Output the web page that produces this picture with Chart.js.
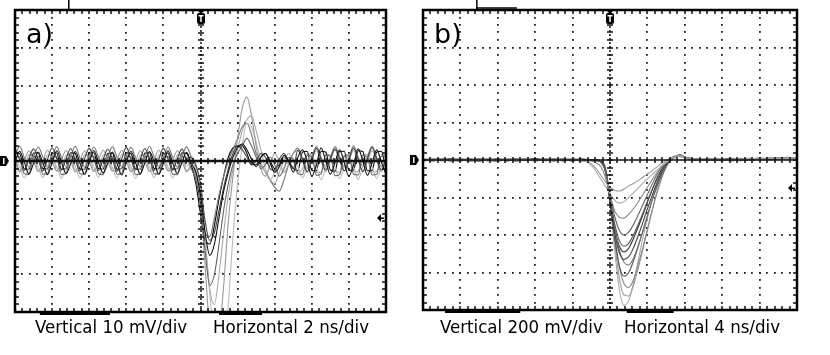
<!DOCTYPE html>
<html>
<head>
<meta charset="utf-8">
<script src="https://cdn.jsdelivr.net/npm/chart.js@4.4.1/dist/chart.umd.min.js"></script>
<style>
  body { margin: 0; background: #fff; width: 830px; height: 355px; position: relative; overflow: hidden; }
  canvas { position: absolute; top: 0; }
  #chartA { left: 0; }
  #chartB { left: 410px; }
  .tag { position: absolute; font-family: 'DejaVu Sans', sans-serif; font-size: 27px; color: #000; line-height: 1; }
  .cap { position: absolute; top: 316px; font-family: 'DejaVu Sans Condensed', 'DejaVu Sans', sans-serif; font-size: 18.5px; color: #000; white-space: nowrap; line-height: 22px; }
</style>
</head>
<body>
<canvas id="chartA" width="400" height="320"></canvas>
<canvas id="chartB" width="400" height="320"></canvas>
<div class="tag" style="left:26px;top:20px">a)</div>
<div class="tag" style="left:434px;top:20px">b)</div>
<div class="cap" style="left:35px">Vertical 10 mV/div</div>
<div class="cap" style="left:213px">Horizontal 2 ns/div</div>
<div class="cap" style="left:440px">Vertical 200 mV/div</div>
<div class="cap" style="left:624px">Horizontal 4 ns/div</div>
<script>
// Panel a) - 10 mV/div, 2 ns/div (time in ns, voltage in mV)
const xA = [-10, -9.75, -9.5, -9.25, -9, -8.75, -8.5, -8.25, -8, -7.75, -7.5, -7.25, -7, -6.75, -6.5, -6.25,
  -6, -5.75, -5.5, -5.25, -5, -4.75, -4.5, -4.25, -4, -3.75, -3.5, -3.25, -3, -2.75, -2.5, -2.25,
  -2, -1.75, -1.5, -1.25, -1, -0.75, -0.5, -0.25, 0, 0.25, 0.5, 0.75, 1, 1.25, 1.5, 1.75,
  2, 2.25, 2.5, 2.75, 3, 3.25, 3.5, 3.75, 4, 4.25, 4.5, 4.75, 5, 5.25, 5.5, 5.75,
  6, 6.25, 6.5, 6.75, 7, 7.25, 7.5, 7.75, 8, 8.25, 8.5, 8.75, 9, 9.25, 9.5, 9.75, 10];

const traceA1 = [-0.5, 2.6, -0.3, -3.4, -0.6, 2.4, -0.4, -3.6, -0.5, 2.7, -0.2, -3.3, -0.7, 2.5, -0.5, -3.5, -0.4, 2.8, -0.3, -3.2, -0.6, 2.4, -0.6, -3.7, -0.3, 2.6, -0.4, -3.4, -0.5, 2.5, -0.2, -3.5, -0.6, 2.7, -0.5, -3.3, -0.4, 2.3,
  -0.5, -3, -9, -19, -25, -22, -15, -8, -3, 1, 3.5, 4.5, 3, 0.5, -1.5, 1, 2, -0.5, -3, -1.5, 1.5, 0, -3,
  1, 3, 0, -4, -1, 3.5, 0, -3.5, -0.5, 3, -0.5, -4, -1, 3.2, 0, -3.8, -0.5, 3, -0.3, -3.6];
const traceA2 = [3.4, 0.4, -2.4, 0.6, 3.2, 0.5, -2.6, 0.4, 3.5, 0.6, -2.3, 0.5, 3.3, 0.3, -2.5, 0.6, 3.4, 0.5, -2.4, 0.4, 3.1, 0.6, -2.7, 0.5, 3.6, 0.4, -2.2, 0.5, 3.3, 0.6, -2.5, 0.4, 3.4, 0.5, -2.4, 0.6, 3.2, 0.3,
  1, -1, -6, -16, -21, -19, -13, -7, -2, 2, 4, 3, 1, -1, 0, 2, 1, -2, -2.5, 0.5, 2, 0, -2,
  2.9, 0.5, -2.9, 0.5, 3.4, 0.4, -2.4, 0.5, 3.2, 0.6, -2.6, 0.4, 3.4, 0.5, -2.8, 0.6, 3.6, 0.5, -2.4, 0.4];
const traceA3 = [1.2, 1, -3.4, -3.6, 1.1, 1.2, -3.5, -3.4, 1, 1.1, -3.6, -3.4, 1.2, 0.9, -3.4, -3.5, 1.1, 1.2, -3.3, -3.6, 1, 1.1, -3.5, -3.4, 1.2, 1, -3.6, -3.5, 1.1, 1.2, -3.4, -3.4, 1, 1.1, -3.5, -3.6, 1.2, 1,
  -2, -5, -12, -24, -33, -30, -22, -13, -6, -1, 2, 4, 6, 4, 1, -2, -1, 1, -1, -4, -2, 1, 0.5,
  -3.4, -3.6, 1.5, 1.2, -3.8, -3.4, 1.5, 1.3, -3.9, -3.6, 1.2, 1.4, -3.5, -3.7, 1.5, 1, -3.7, -3.5, 1.2, 1.3];
const traceA4 = [0.2, -2.9, 0, 2.7, 0.1, -2.8, -0.2, 2.9, 0, -2.7, 0.2, 2.8, 0.1, -2.9, 0, 2.7, -0.1, -2.8, 0.1, 2.9, 0, -2.7, 0.2, 2.8, 0.1, -2.9, -0.1, 2.7, 0, -2.8, 0.2, 2.9, 0.1, -2.7, 0, 2.8, 0.2, -2.9,
  -1, -4, -12, -28, -45, -52, -46, -33, -16, -4, 6, 14, 17, 12, 4, -2, -4, -1, 2, 0, -3, -1, 2,
  2.8, 0, -2.9, 0.2, 2.7, 0, -2.8, 0.1, 2.9, -0.1, -2.7, 0, 2.8, 0.2, -2.9, 0, 2.7, 0.1, -2.8, 0];
const traceA5 = [1, -1.4, -4.5, -1.6, 1.1, -1.5, -4.4, -1.4, 0.9, -1.6, -4.6, -1.5, 1, -1.4, -4.5, -1.6, 1.2, -1.5, -4.3, -1.4, 1, -1.6, -4.5, -1.5, 0.9, -1.4, -4.6, -1.6, 1.1, -1.5, -4.4, -1.4, 1, -1.6, -4.5, -1.5, 1.2, -1.4,
  0, -2, -8, -20, -35, -48, -55, -50, -38, -20, -6, 4, 10, 9, 5, 0, -3, -5, -3, 0, 1, -1, 0,
  -1.5, -4.5, -1.5, 1.5, -1.4, -5, -1.6, 1.2, -1.5, -4.7, -1.4, 1.4, -1.6, -4.9, -1.5, 1.3, -1.4, -4.6, -1.5, 1.2];
const traceA6 = [1.1, 3.9, 0.9, -1.5, 1, 3.7, 1.1, -1.6, 0.9, 3.8, 1, -1.4, 1.1, 3.9, 0.8, -1.5, 1, 3.7, 1.1, -1.6, 0.9, 3.8, 1, -1.5, 1.2, 3.6, 0.9, -1.4, 1, 3.9, 1.1, -1.5, 0.9, 3.7, 1, -1.6, 1.1, 3.8,
  1, -2, -10, -19, -20, -15, -9, -4, 0, 3, 6, 9, 10, 7, 2, -1, -3, -5, -7, -8, -5, -1, 2,
  3.4, 0.5, -2, 1, 3.9, 1, -1.5, 0.8, 3.8, 1.1, -1.6, 0.9, 4, 1, -1.4, 1.1, 3.9, 0.9, -1.5, 1];
const traceA7 = [2.2, 2, -2.1, -2.2, 2.1, 2.2, -2, -2.1, 2, 2.1, -2.2, -2, 2.2, 2, -2.1, -2.2, 2.1, 2.2, -2, -2.1, 2, 2.1, -2.2, -2, 2.2, 2, -2.1, -2.2, 2.1, 2.2, -2, -2.1, 2, 2.1, -2.2, -2, 2.2, 2,
  -1, -6, -14, -21, -22, -17, -10, -4, 1, 3.5, 4, 4, 2, -1, -1, 1, 2, 0, -2, -1, 1, 0, -2,
  -2.5, 2.4, 2.6, -2.5, -2.6, 2.6, 2.4, -2.4, -2.7, 2.5, 2.6, -2.5, -2.4, 2.7, 2.5, -2.6, -2.5, 2.4, 2.6, -2.5];
const traceA8 = [1.6, -2.6, -2.5, 1.7, 1.5, -2.7, -2.6, 1.6, 1.7, -2.5, -2.6, 1.5, 1.6, -2.7, -2.5, 1.6, 1.7, -2.6, -2.6, 1.5, 1.6, -2.5, -2.7, 1.7, 1.5, -2.6, -2.5, 1.6, 1.6, -2.7, -2.6, 1.5, 1.7, -2.5, -2.6, 1.6, 1.5, -2.6,
  -2, -4, -10, -22, -34, -38, -30, -19, -9, -2, 3, 8, 11, 12, 8, 3, -2, -5, -6, -3, 0, 2, 0,
  -3, -2, 2, 1.5, -3, -3, 1.8, 1.6, -2.8, -3, 1.5, 1.7, -2.9, -2.7, 1.6, 1.8, -3, -2.8, 1.7, 1.5];

const tracesA = [traceA1, traceA2, traceA3, traceA4, traceA5, traceA6, traceA7, traceA8];
const colorsA = ['#111', '#444', '#666', '#999', '#bbb', '#777', '#000', '#aaa'];

// Panel b) - 200 mV/div, 4 ns/div (time in ns, voltage in mV)
const xB = [-20, -19, -18, -17, -16, -15, -14, -13, -12, -11, -10, -9, -8, -7, -6, -5, -4, -3,
  -2.5, -2, -1.5, -1, -0.5, 0, 0.5, 1, 1.5, 2, 2.5, 3, 3.5, 4, 4.5, 5, 5.5, 6, 6.5, 7, 7.5, 8,
  9, 10, 11, 12, 13, 14, 15, 16, 17, 18, 19, 20];

const traceB1 = [4, -6, 8, -3, 5, -8, 2, 7, -4, 3, -6, 9, -2, 5, -7, 3, 6, -4,
  -5, -20, -45, -80, -115, -145, -162, -165, -155, -138, -125, -110, -92, -75, -58, -38, -18, -2, 12, 22, 18, 10,
  6, -3, 8, -5, 4, 9, -2, 7, 11, 5, 13, 10];
const traceB2 = [-3, 6, -5, 2, 9, -4, 5, -7, 3, 8, -2, 4, -6, 7, -3, 5, 2, -5,
  -10, -30, -60, -100, -140, -180, -215, -230, -222, -200, -175, -150, -125, -100, -78, -55, -32, -12, 4, 18, 24, 12,
  3, 8, -4, 6, 2, -5, 9, 4, 8, 12, 7, 14];
const traceB3 = [6, -2, 3, -7, 4, 1, -5, 8, -3, 2, 6, -4, 3, -2, 7, -5, 4, 1,
  -2, -5, -15, -35, -90, -190, -270, -305, -310, -290, -260, -225, -185, -145, -105, -68, -35, -10, 8, 22, 26, 15,
  5, -2, 7, 3, -4, 6, 9, 2, 10, 6, 12, 8];
const traceB4 = [-4, 3, 7, -2, -6, 5, 2, -3, 8, -5, 4, 2, -4, 6, -1, 3, -6, 5,
  2, -1, -4, -12, -60, -180, -300, -375, -400, -385, -345, -295, -240, -185, -130, -80, -40, -12, 6, 20, 24, 13,
  -2, 5, 3, -4, 7, 1, 5, 9, 3, 11, 8, 12];
const traceB5 = [2, -5, 4, 6, -3, 2, -6, 4, 1, -4, 7, -2, 5, -3, 2, 6, -4, 3,
  -3, 2, -2, -10, -55, -200, -340, -430, -460, -445, -400, -345, -285, -220, -160, -105, -58, -20, 4, 18, 27, 16,
  4, -3, 6, 2, -5, 8, 3, 7, 1, 9, 12, 7];
const traceB6 = [-6, 4, -1, 3, 7, -4, 5, -2, -5, 6, 1, -3, 8, -4, 3, -2, 5, -1,
  1, -3, 0, -8, -50, -220, -390, -495, -530, -515, -470, -405, -335, -260, -190, -125, -68, -25, 2, 20, 28, 14,
  7, 2, -3, 5, 9, -1, 4, 10, 6, 8, 14, 9];
const traceB7 = [3, 7, -4, 1, -2, 6, -5, 3, 5, -3, 2, 7, -4, 1, 5, -3, 2, -6,
  -2, 1, -3, -10, -45, -190, -360, -480, -545, -560, -525, -460, -385, -300, -215, -140, -80, -30, 0, 16, 25, 17,
  2, 6, -1, 4, -3, 7, 5, 2, 9, 7, 10, 13];
const traceB8 = [-1, 5, -3, 8, 2, -6, 4, -2, 6, 1, -5, 3, 6, -3, 4, -5, 2, 7,
  3, -2, 1, -6, -55, -230, -420, -565, -620, -600, -540, -465, -380, -295, -215, -145, -82, -32, 3, 19, 26, 15,
  5, 1, 6, -2, 4, 8, -3, 6, 11, 4, 9, 12];
const traceB9 = [5, -3, 2, -5, 6, 3, -2, 7, -6, 4, 2, -3, 5, 8, -4, 2, -2, 4,
  -1, 2, -2, -7, -40, -200, -400, -570, -660, -680, -640, -560, -470, -370, -270, -180, -100, -40, -2, 18, 24, 14,
  3, 7, 2, -4, 6, 4, 8, 1, 7, 12, 9, 11];
const traceB10 = [-2, 4, 6, -3, 3, -5, 7, 2, -4, 5, -1, 6, -5, 3, 7, -2, 4, -3,
  2, -1, 3, -5, -45, -220, -440, -630, -720, -725, -670, -580, -480, -375, -270, -175, -95, -35, 1, 17, 23, 12,
  6, -1, 4, 8, 2, -3, 6, 9, 5, 10, 7, 13];
const traceB11 = [4, -4, 1, 5, -2, 7, -3, 2, 6, -5, 3, 1, -2, 4, -6, 6, 3, -1,
  0, -2, 1, -4, -40, -230, -480, -690, -775, -750, -660, -540, -420, -310, -210, -130, -65, -20, 5, 19, 25, 13,
  2, 5, -2, 7, 3, 6, -1, 8, 4, 9, 12, 10];
const traceB12 = [1, -3, 5, -1, 3, -4, 6, 1, -2, 4, -5, 2, 7, -2, 1, 4, -3, 2,
  -1, 0, -2, -9, -60, -210, -360, -460, -490, -470, -420, -360, -295, -225, -160, -100, -52, -15, 5, 18, 22, 12,
  4, 1, 6, -2, 5, 3, 7, 2, 8, 10, 6, 11];

const tracesB = [traceB1, traceB2, traceB3, traceB4, traceB5, traceB6, traceB7, traceB8, traceB9, traceB10, traceB11, traceB12];
const colorsB = ['#999', '#aaa', '#888', '#666', '#555', '#444', '#777', '#555', '#888', '#999', '#aaa', '#333'];

// Scope screen decorations: dotted graticule, centre axes with ticks, frame, markers
const scopePlugin = {
  id: 'scope',
  beforeDatasetsDraw(chart) {
    const { ctx, scales: { x, y } } = chart;
    const xd = (x.max - x.min) / 10, yd = (y.max - y.min) / 8;
    ctx.save();
    ctx.fillStyle = '#222';
    for (let i = 1; i < 10; i++) {
      if (i === 5) continue;
      const px = Math.round(x.getPixelForValue(x.min + i * xd));
      for (let j = 1; j < 40; j++) {
        const py = Math.round(y.getPixelForValue(y.min + j * yd / 5));
        ctx.fillRect(px - 1, py - 1, 1.8, 1.8);
      }
    }
    for (let i = 1; i < 8; i++) {
      if (i === 4) continue;
      const py = Math.round(y.getPixelForValue(y.min + i * yd));
      for (let j = 1; j < 50; j++) {
        const px = Math.round(x.getPixelForValue(x.min + j * xd / 5));
        ctx.fillRect(px - 1, py - 1, 1.8, 1.8);
      }
    }
    ctx.restore();
  },
  afterDatasetsDraw(chart, args, o) {
    const { ctx, chartArea: a, scales: { x, y } } = chart;
    const xd = (x.max - x.min) / 10, yd = (y.max - y.min) / 8;
    const cx = Math.round(x.getPixelForValue(0));
    const cy = Math.round(y.getPixelForValue(0));
    ctx.save();
    ctx.strokeStyle = '#111';
    // centre horizontal axis
    ctx.lineWidth = o.centerWidth;
    ctx.beginPath(); ctx.moveTo(a.left, cy); ctx.lineTo(a.right, cy); ctx.stroke();
    // centre vertical axis
    ctx.lineWidth = 1.5;
    ctx.setLineDash([2, 2]);
    ctx.beginPath(); ctx.moveTo(cx, a.top); ctx.lineTo(cx, a.bottom); ctx.stroke();
    ctx.setLineDash([]);
    // ticks on centre axes and frame edges
    ctx.lineWidth = 1.5;
    ctx.beginPath();
    for (let j = 1; j < 50; j++) {
      const px = Math.round(x.getPixelForValue(x.min + j * xd / 5));
      ctx.moveTo(px, cy - 3); ctx.lineTo(px, cy + 3);
      ctx.moveTo(px, a.top); ctx.lineTo(px, a.top + 4);
      ctx.moveTo(px, a.bottom); ctx.lineTo(px, a.bottom - 4);
    }
    for (let j = 1; j < 40; j++) {
      const py = Math.round(y.getPixelForValue(y.min + j * yd / 5));
      ctx.moveTo(cx - 3, py); ctx.lineTo(cx + 3, py);
      ctx.moveTo(a.left, py); ctx.lineTo(a.left + 4, py);
      ctx.moveTo(a.right, py); ctx.lineTo(a.right - 4, py);
    }
    ctx.stroke();
    // frame
    ctx.strokeStyle = '#000';
    ctx.lineWidth = 2.5;
    ctx.strokeRect(a.left, a.top, a.right - a.left, a.bottom - a.top);
    // status marks above and below the screen
    ctx.lineWidth = 1.5;
    const tx = a.left + o.topMark * xd * (a.right - a.left) / (x.max - x.min);
    ctx.beginPath(); ctx.moveTo(tx, 0); ctx.lineTo(tx, a.top); ctx.stroke();
    if (o.topBar) {
      ctx.beginPath(); ctx.moveTo(tx, a.top - 2); ctx.lineTo(tx + o.topBar, a.top - 2); ctx.stroke();
    }
    ctx.lineWidth = 2;
    o.bottomBars.forEach(([d0, d1]) => {
      const p0 = x.getPixelForValue(x.min + d0 * xd), p1 = x.getPixelForValue(x.min + d1 * xd);
      ctx.beginPath(); ctx.moveTo(p0, a.bottom + 2); ctx.lineTo(p1, a.bottom + 2); ctx.stroke();
    });
    // trigger "T" marker
    ctx.fillStyle = '#000';
    ctx.beginPath();
    ctx.moveTo(cx - 4, a.top); ctx.lineTo(cx + 4, a.top); ctx.lineTo(cx, a.top + 4); ctx.closePath(); ctx.fill();
    ctx.beginPath();
    ctx.roundRect(cx - 4, a.top + 3, 8, 11, 2);
    ctx.fill();
    ctx.fillStyle = '#fff';
    ctx.fillRect(cx - 2.5, a.top + 5, 5, 1.5);
    ctx.fillRect(cx - 0.75, a.top + 5, 1.5, 7);
    // ground "1" marker on the left
    ctx.fillStyle = '#000';
    ctx.beginPath();
    ctx.moveTo(0, cy - 5); ctx.lineTo(6, cy - 5); ctx.lineTo(9, cy); ctx.lineTo(6, cy + 5); ctx.lineTo(0, cy + 5);
    ctx.closePath(); ctx.fill();
    ctx.fillStyle = '#fff';
    ctx.fillRect(3, cy - 3, 1.5, 6);
    // trigger level arrow on the right
    ctx.fillStyle = '#000';
    const ay = Math.round(y.getPixelForValue(o.arrowLevel * yd));
    ctx.beginPath();
    ctx.moveTo(a.right - 9, ay); ctx.lineTo(a.right - 5, ay - 4); ctx.lineTo(a.right - 5, ay + 4); ctx.closePath(); ctx.fill();
    ctx.fillRect(a.right - 5, ay - 0.5, 3, 1.5);
    ctx.restore();
  }
};

function makeScope(id, xs, traces, colors, xr, yr, pad, deco) {
  const datasets = traces.map((tr, k) => ({
    data: tr.map((v, i) => ({ x: xs[i], y: v })),
    borderColor: colors[k],
    borderWidth: 1.1
  }));
  return new Chart(document.getElementById(id), {
    type: 'line',
    data: { datasets },
    options: {
      responsive: false,
      animation: false,
      devicePixelRatio: 1,
      layout: { padding: pad },
      elements: { point: { radius: 0 }, line: { cubicInterpolationMode: 'monotone' } },
      plugins: { legend: { display: false }, tooltip: { enabled: false }, scope: deco },
      scales: {
        x: { type: 'linear', min: -xr, max: xr, display: false },
        y: { type: 'linear', min: -yr, max: yr, display: false }
      }
    },
    plugins: [scopePlugin]
  });
}

makeScope('chartA', xA, tracesA, colorsA, 10, 40,
  { left: 15, right: 14, top: 10, bottom: 8 },
  { centerWidth: 2.5, arrowLevel: -1.5, topMark: 1.45, topBar: 0, bottomBars: [[0.67, 2.56], [5.5, 6.66]] });
makeScope('chartB', xB, tracesB, colorsB, 20, 800,
  { left: 13, right: 13, top: 10, bottom: 10 },
  { centerWidth: 1.5, arrowLevel: -0.75, topMark: 1.44, topBar: 40, bottomBars: [[0.59, 2.6], [5.45, 6.7]] });
</script>
</body>
</html>
